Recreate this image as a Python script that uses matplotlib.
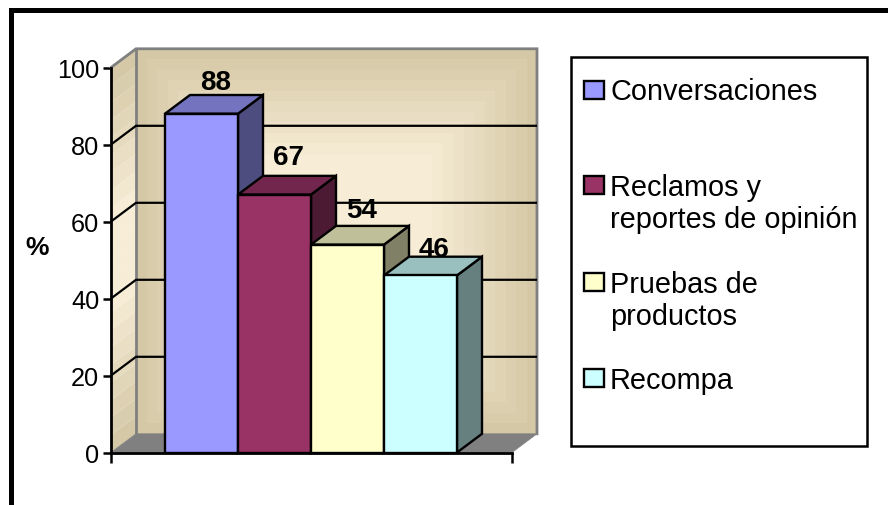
import matplotlib
matplotlib.use('Agg')
import numpy as np
import matplotlib.pyplot as plt
from matplotlib.patches import Polygon, Rectangle

plt.rcParams['font.family'] = ['Liberation Sans', 'DejaVu Sans']

# Data
categories = ['Conversaciones', 'Reclamos y\nreportes de opinión', 'Pruebas de\nproductos', 'Recompa']
values = [88, 67, 54, 46]
y_ticks = [0, 20, 40, 60, 80, 100]
front_colors = ['#9999FF', '#993366', '#FFFFCC', '#CCFFFF']
top_colors = ['#7373BF', '#73264D', '#BFBF99', '#99BFBF']
side_colors = ['#4D4D80', '#4D1A33', '#808066', '#668080']
label_lift = [3.3, 5.0, 4.1, 2.0]

W, H = 888, 506
fig = plt.figure(figsize=(W / 100, H / 100), dpi=100)

# figure overlay in pixel coordinates for the frame and legend box
bg = fig.add_axes([0, 0, 1, 1])
bg.set_xlim(0, W)
bg.set_ylim(H, 0)
bg.axis('off')
bg.plot([10.5, 10.5, W + 5], [H + 5, 11, 11], color='black', lw=3.6, solid_joinstyle='miter')
bg.add_patch(Rectangle((571, 58), 296, 389, fc='white', ec='black', lw=1.8))

# plot axes: front plane of the 3D box
left, right, top, bottom = 111, 512, 68.5, 453.5
ax = fig.add_axes([left / W, 1 - bottom / H, (right - left) / W, (bottom - top) / H])
ax.patch.set_alpha(0)
bar_w = 73 / (right - left)
ax.set_xlim(0, 1)
ax.set_ylim(0, 100)
dx = 25 / (right - left)
dy = 18.7 / (bottom - top) * 100
first = (165 - left) / (right - left)

# back wall with stepped shading
steps = 11
outer = np.array([212, 200, 166])
inner = np.array([247, 237, 214])
step_x = 10.5 / (right - left)
step_y = 10.5 / (bottom - top) * 100
for i in range(steps):
    c = (outer + (inner - outer) * i / (steps - 1)) / 255
    ax.add_patch(Rectangle((dx + i * step_x, dy + i * step_y), 1 - 2 * i * step_x, 100 - 2 * i * step_y,
                           fc=c, ec='none', clip_on=False, zorder=1))

# side wall with stepped shading
n_side = 22
for i in range(n_side):
    t = 1 - abs(2 * i / (n_side - 1) - 1)
    c = (outer + (inner - outer) * min(t * 1.3, 1)) / 255
    y0 = i * 100 / n_side
    y1 = (i + 1) * 100 / n_side
    ax.add_patch(Polygon([(0, y0), (dx, y0 + dy), (dx, y1 + dy), (0, y1)],
                         fc=c, ec='none', clip_on=False, zorder=1))

# floor
ax.add_patch(Polygon([(0, 0), (dx, dy), (1 + dx, dy), (1, 0)], fc='#808080', ec='#808080', lw=0.5,
                     clip_on=False, zorder=2))

# wall edges
ax.plot([0, dx, 1 + dx, 1 + dx], [100, 100 + dy, 100 + dy, dy], color='#808080', lw=2,
        clip_on=False, zorder=2, solid_joinstyle='miter')
ax.plot([dx, dx], [dy, 100 + dy], color='#808080', lw=2, clip_on=False, zorder=2)

# gridlines on the side and back walls
for t in y_ticks[1:-1]:
    ax.plot([0, dx, 1 + dx], [t, t + dy, t + dy], color='black', lw=1.6, clip_on=False, zorder=3,
            solid_capstyle='butt')

# bars
for i, v in enumerate(values):
    x0 = first + i * bar_w
    x1 = x0 + bar_w
    ax.add_patch(Polygon([(x1, 0), (x1 + dx, dy), (x1 + dx, v + dy), (x1, v)],
                         fc=side_colors[i], ec='black', lw=1.7, clip_on=False, zorder=4 + i,
                         joinstyle='miter'))
    ax.add_patch(Polygon([(x0, v), (x0 + dx, v + dy), (x1 + dx, v + dy), (x1, v)],
                         fc=top_colors[i], ec='black', lw=1.7, clip_on=False, zorder=4 + i,
                         joinstyle='miter'))
    ax.add_patch(Rectangle((x0, 0), bar_w, v, fc=front_colors[i], ec='black', lw=1.7,
                           clip_on=False, zorder=4 + i))
    ax.text(x0 + bar_w / 2 + dx * 0.55, v + dy + label_lift[i], str(v), ha='center', va='center',
            fontsize=20, fontweight='bold', color='black', zorder=20)

# axes
for s in ['top', 'right']:
    ax.spines[s].set_visible(False)
for s in ['left', 'bottom']:
    ax.spines[s].set_linewidth(2)
    ax.spines[s].set_zorder(15)
ax.set_yticks(y_ticks)
ax.set_yticklabels([str(t) for t in y_ticks], fontsize=18.2)
ax.set_xticks([0, 1])
ax.set_xticklabels(['', ''])
ax.tick_params(axis='y', length=6, width=1.8, pad=2.5)
ax.tick_params(axis='x', length=7, width=1.8)
bg.text(37, 248, '%', fontsize=19, fontweight='bold', ha='center', va='center')

# legend entries
swatch_y = [91, 186, 283, 379]
label_y = [92, 204, 301, 381]
for name, c, sy, ly in zip(categories, front_colors, swatch_y, label_y):
    bg.add_patch(Rectangle((584, sy - 9), 19.5, 18, fc=c, ec='black', lw=1.7))
    bg.text(610, ly, name, fontsize=20.8, ha='left', va='center', linespacing=1.18)

fig.savefig('out.png', dpi=100)
